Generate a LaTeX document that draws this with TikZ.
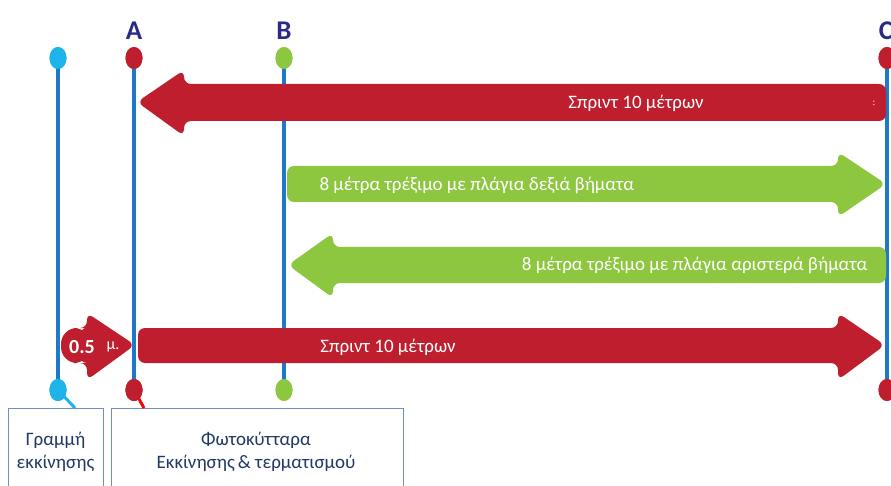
\documentclass[tikz,border=0pt]{standalone}
\usepackage{fontspec}
\setmainfont{Carlito}
\usetikzlibrary{shapes.geometric}
\definecolor{rred}{HTML}{BE1E2D}
\definecolor{ggreen}{HTML}{8DC63F}
\definecolor{lblue}{HTML}{1F78C8}
\definecolor{ccyan}{HTML}{1EB4EA}
\definecolor{navy}{HTML}{2B2A87}
\definecolor{boxline}{HTML}{6C8FC7}
\definecolor{boxtext}{HTML}{1F3864}
\tikzset{
  dot/.style={ellipse, minimum width=17pt, minimum height=22pt, inner sep=0pt, fill=#1},
  pole/.style={draw=lblue, line width=4pt},
  letter/.style={font=\fontsize{27}{27}\selectfont\bfseries, text=navy},
  bigarrow/.style={fill=#1, rounded corners=7pt},
  arrowtext/.style={font=\fontsize{19}{20}\selectfont, text=white},
  infobox/.style={draw=boxline, line width=0.8pt},
  boxlabel/.style={font=\fontsize{19}{23}\selectfont, text=boxtext, align=center}
}
\begin{document}
\begin{tikzpicture}[x=1pt,y=-1pt]
\useasboundingbox (0,0) rectangle (891,486);
% dots
\node[dot=ccyan] (s1) at (58,58) {};
\node[dot=ccyan] (s2) at (58,390) {};
\node[dot=rred] (a1) at (134,58) {};
\node[dot=rred] (a2) at (134,390) {};
\node[dot=ggreen] (b1) at (284,58) {};
\node[dot=ggreen] (b2) at (284,390) {};
\node[dot=rred] (c1) at (887,58) {};
\node[dot=rred] (c2) at (887,390) {};
% poles
\draw[pole] (s1.center) -- (s2.center);
\draw[pole] (a1.center) -- (a2.center);
\draw[pole] (b1.center) -- (b2.center);
\draw[pole] (c1.center) -- (c2.center);
% redraw dots on top
\node[dot=ccyan] at (s1) {};
\node[dot=ccyan] at (s2) {};
\node[dot=rred] at (a1) {};
\node[dot=rred] at (a2) {};
\node[dot=ggreen] at (b1) {};
\node[dot=ggreen] at (b2) {};
\node[dot=rred] at (c1) {};
\node[dot=rred] at (c2) {};
% letters
\node[letter] (la) at (134,31) {A};
\node[letter] (lb) at (284,31) {B};
\node[letter] (lc) at (886,31) {C};
% top red arrow (left)
\fill[bigarrow=rred] (137,102) -- (184,70) -- (184,84) -- (886,84) -- (886,121) -- (184,121) -- (184,136) -- cycle;
\node[arrowtext] (t1) at (636,103) {Σπριντ 10 μέτρων};
\node[arrowtext, font=\fontsize{10}{10}\selectfont] (t1b) at (874,103) {:};
% green arrow right
\fill[bigarrow=ggreen] (287,166) -- (838,166) -- (838,152) -- (886,184) -- (838,217) -- (838,202) -- (287,202) -- cycle;
\node[arrowtext, anchor=west] (t2) at (316,185) {8 μέτρα τρέξιμο με πλάγια δεξιά βήματα};
% green arrow left
\fill[bigarrow=ggreen] (288,265) -- (333,233) -- (333,247) -- (886,247) -- (886,283) -- (333,283) -- (333,298) -- cycle;
\node[arrowtext, anchor=east] (t3) at (871,265) {8 μέτρα τρέξιμο με πλάγια αριστερά βήματα};
% small red arrow
\fill[rred, rounded corners=16pt] (61,328) -- (90,328) -- (90,363) -- (61,363) -- cycle;
\fill[bigarrow=rred] (80,328) -- (87,328) -- (87,313) -- (135,345) -- (87,380) -- (87,363) -- (80,363) -- cycle;
\node[text=white, font=\fontsize{20}{20}\selectfont\bfseries] (t4) at (82,347) {0.5};
\node[text=white, font=\fontsize{16}{16}\selectfont] (t5) at (113,347) {μ.};
% bottom red arrow
\fill[bigarrow=rred] (138,328) -- (838,328) -- (838,313) -- (885,345) -- (838,380) -- (838,363) -- (138,363) -- cycle;
\node[arrowtext] (t6) at (388,347) {Σπριντ 10 μέτρων};
% boxes
\draw[infobox] (8,490) -- (8,408) -- (103,408) -- (103,490);
\draw[infobox] (111,490) -- (111,408) -- (403,408) -- (403,490);
\node[boxlabel] (g) at (55.5,452) {Γραμμή\\εκκίνησης};
\node[boxlabel] (f) at (256,452) {Φωτοκύτταρα\\Εκκίνησης\,\& τερματισμού};
\coordinate (sc) at (75,408);
\coordinate (ac) at (144,408);
\draw[ccyan, line width=3pt] (s2.center) -- (sc);
\draw[red, line width=3pt] (a2.center) -- (ac);
\node[dot=ccyan] at (s2) {};
\node[dot=rred] at (a2) {};
\end{tikzpicture}
\end{document}
